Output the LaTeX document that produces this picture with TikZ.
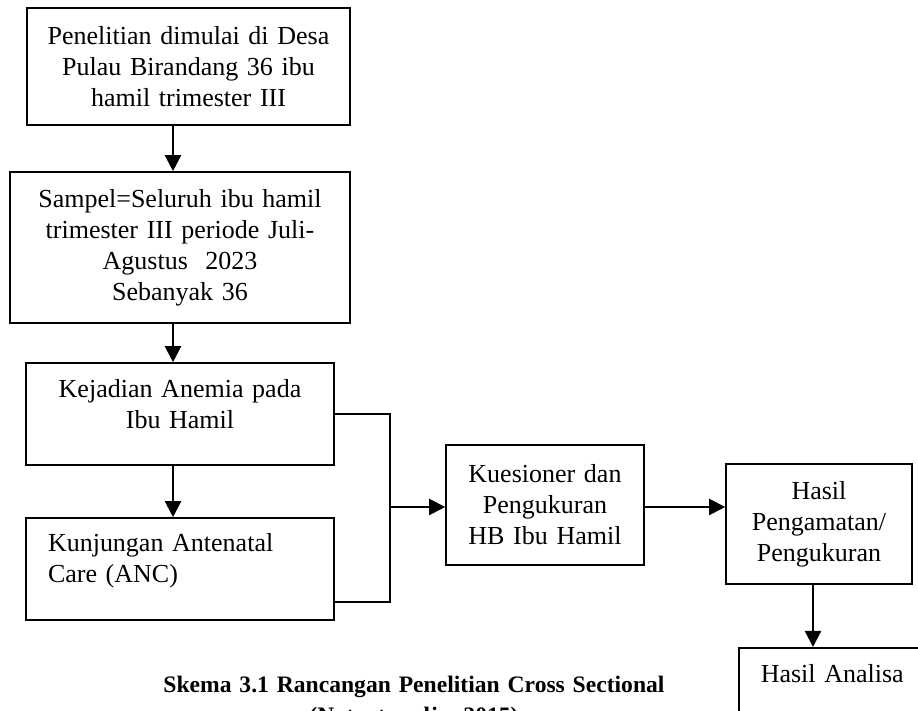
\documentclass[tikz,border=0pt]{standalone}
\usepackage{fontspec}
\setmainfont{Liberation Serif}
\usetikzlibrary{arrows.meta}

\begin{document}
\begin{tikzpicture}[x=0.5pt,y=-0.5pt,
  main box/.style={draw,line width=0.8pt,inner xsep=6pt,inner ysep=4pt,align=center,font=\fontsize{13}{15.5}\selectfont},
  main arrow/.style={line width=1.1pt,-{Triangle[length=8pt,width=8pt]}}]

  \useasboundingbox (0,0) rectangle (918,711);
  \clip (0,0) rectangle (918,711);

  \node[main box,text width=149.5pt,minimum height=58.5pt] (start) at (188.5,66.5){Penelitian dimulai di Desa\\Pulau Birandang 36 ibu\\hamil trimester III};
  \node[main box,text width=158pt,minimum height=75.5pt] (sampel) at (180,247.5){Sampel=Seluruh ibu hamil\\trimester III periode Juli-\\Agustus\ \ 2023\\Sebanyak 36};
  \node[main box,text width=142pt,text height=13.5pt,text depth=29.5pt] (anemia) at (180,414){Kejadian Anemia pada\\Ibu Hamil};
  \node[main box,align=left,inner xsep=11pt,text width=132pt,text height=13pt,text depth=30pt] (anc) at (180,569){Kunjungan Antenatal\\Care (ANC)};
  \node[main box,text width=87pt,minimum height=60pt] (kuesioner) at (545,505){Kuesioner dan\\Pengukuran\\HB Ibu Hamil};
  \node[main box,text width=81pt,minimum height=60pt] (hasil) at (819,524){Hasil\\Pengamatan/\\Pengukuran};
  \node[main box,anchor=north west,text width=81.5pt,text height=13.5pt,text depth=40pt] (analisa) at (738,647){Hasil Analisa};

  \node[font=\bfseries\fontsize{11.8}{15.5}\selectfont,align=center,text width=280pt,anchor=base] (caption) at (414,693){Skema 3.1 Rancangan Penelitian Cross Sectional\\(Notoatmodjo, 2015)};

  \coordinate (spine) at (173,0);
  \coordinate (join) at (390,507);
  \coordinate (ancjoin) at (390,602);
  \coordinate (drop) at (813,0);

  \draw[line width=0.8pt] (anemia.east) -| (ancjoin) -- (anc.east |- ancjoin);

  \path[main arrow]
    (start.south -| spine) edge (sampel.north -| spine)
    (sampel.south -| spine) edge (anemia.north -| spine)
    (anemia.south -| spine) edge (anc.north -| spine)
    (join) edge (kuesioner.west |- join)
    (kuesioner.east |- join) edge (hasil.west |- join)
    (hasil.south -| drop) edge (analisa.north -| drop);
\end{tikzpicture}
\end{document}
